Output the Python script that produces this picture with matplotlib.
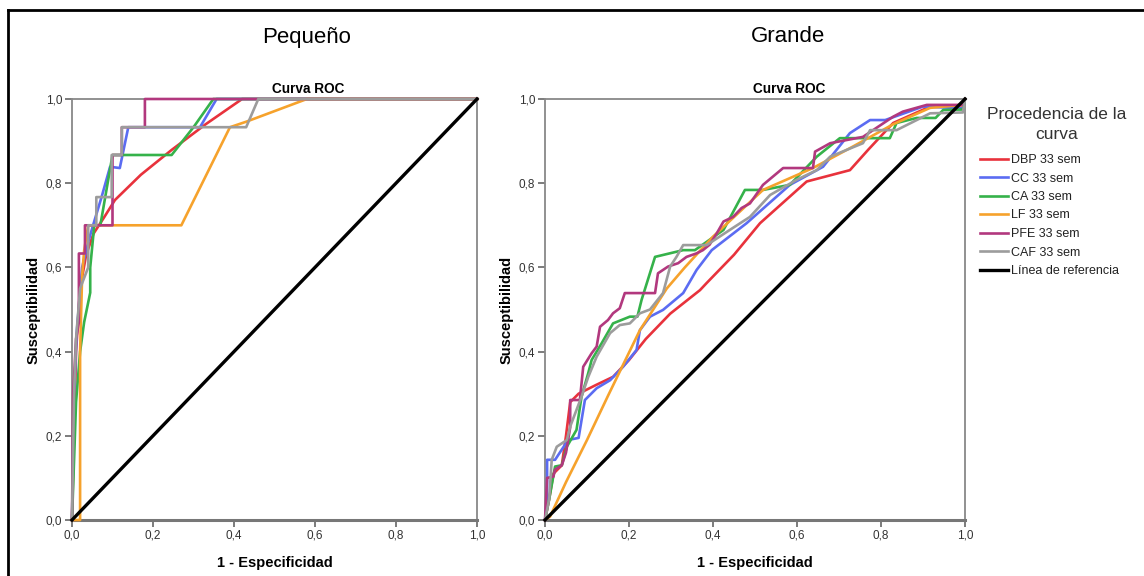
import matplotlib
matplotlib.use('Agg')
import matplotlib.pyplot as plt
from matplotlib.lines import Line2D

plt.rcParams['font.family'] = ['Liberation Sans', 'DejaVu Sans']

# curve names and colours (SPSS order)
names = ['DBP 33 sem', 'CC 33 sem', 'CA 33 sem', 'LF 33 sem', 'PFE 33 sem', 'CAF 33 sem']
colors = ['#e8323c', '#5b6cf2', '#35b24a', '#f6a22c', '#b2387e', '#9c9c9c']

# Pequeño: (1 - especificidad, susceptibilidad) points
peq_dbp = [(0, 0), (0.005, 0.2), (0.01, 0.4), (0.02, 0.55), (0.035, 0.63), (0.053, 0.68),
           (0.08, 0.72), (0.106, 0.76), (0.17, 0.82), (0.246, 0.879), (0.33, 0.94), (0.42, 1.0), (1, 1)]
peq_cc = [(0, 0), (0.005, 0.3), (0.012, 0.45), (0.025, 0.6), (0.04, 0.66), (0.052, 0.70),
          (0.073, 0.767), (0.094, 0.839), (0.118, 0.836), (0.139, 0.933), (0.316, 0.933), (0.357, 1), (1, 1)]
peq_ca = [(0, 0), (0.01, 0.28), (0.02, 0.4), (0.03, 0.47), (0.045, 0.54), (0.045, 0.6), (0.055, 0.7),
          (0.07, 0.7), (0.1, 0.867), (0.246, 0.867), (0.30, 0.933), (0.349, 1), (1, 1)]
peq_lf = [(0, 0), (0.02, 0), (0.02, 0.4), (0.025, 0.58), (0.03, 0.64), (0.04, 0.70), (0.27, 0.70),
          (0.39, 0.933), (0.43, 0.946), (0.58, 1), (1, 1)]
peq_pfe = [(0, 0), (0.003, 0.3), (0.01, 0.43), (0.017, 0.47), (0.017, 0.633), (0.032, 0.633),
           (0.032, 0.7), (0.1, 0.7), (0.1, 0.867), (0.123, 0.867), (0.123, 0.933), (0.18, 0.933),
           (0.18, 1), (1, 1)]
peq_caf = [(0, 0), (0.005, 0.3), (0.01, 0.43), (0.02, 0.55), (0.04, 0.6), (0.04, 0.7), (0.06, 0.7),
           (0.06, 0.767), (0.098, 0.767), (0.098, 0.867), (0.123, 0.867), (0.123, 0.933),
           (0.43, 0.933), (0.46, 1), (1, 1)]

# Grande
gra_dbp = [(0, 0), (0.01, 0.05), (0.02, 0.11), (0.04, 0.13), (0.05, 0.2), (0.06, 0.28), (0.08, 0.30),
           (0.12, 0.32), (0.162, 0.34), (0.2, 0.38), (0.24, 0.43), (0.298, 0.49), (0.369, 0.546),
           (0.385, 0.563), (0.45, 0.63), (0.512, 0.705), (0.623, 0.804), (0.726, 0.831), (0.77, 0.88),
           (0.829, 0.943), (0.917, 0.982), (0.995, 0.985), (1, 1)]
gra_cc = [(0, 0), (0.005, 0.05), (0.005, 0.143), (0.024, 0.143), (0.055, 0.19), (0.08, 0.195),
          (0.095, 0.285), (0.123, 0.313), (0.155, 0.332), (0.186, 0.364), (0.218, 0.404), (0.226, 0.451),
          (0.25, 0.483), (0.281, 0.499), (0.329, 0.539), (0.361, 0.594), (0.397, 0.641), (0.48, 0.705),
          (0.583, 0.796), (0.662, 0.839), (0.726, 0.919), (0.774, 0.95), (0.81, 0.95), (0.9, 0.982),
          (0.995, 0.978), (1, 1)]
gra_ca = [(0, 0), (0.01, 0.05), (0.024, 0.127), (0.04, 0.13), (0.052, 0.174), (0.075, 0.214),
          (0.087, 0.293), (0.103, 0.349), (0.111, 0.38), (0.135, 0.42), (0.162, 0.467), (0.202, 0.483),
          (0.22, 0.483), (0.23, 0.523), (0.262, 0.625), (0.329, 0.641), (0.357, 0.641), (0.425, 0.689),
          (0.476, 0.784), (0.519, 0.784), (0.583, 0.796), (0.647, 0.863), (0.702, 0.907), (0.821, 0.907),
          (0.837, 0.943), (0.885, 0.955), (0.93, 0.955), (0.948, 0.974), (0.995, 0.975), (1, 1)]
gra_lf = [(0, 0), (0.012, 0.008), (0.05, 0.09), (0.1, 0.19), (0.15, 0.295), (0.226, 0.451),
          (0.29, 0.55), (0.333, 0.60), (0.4, 0.673), (0.519, 0.784), (0.638, 0.836), (0.733, 0.887),
          (0.829, 0.94), (0.917, 0.979), (0.995, 0.986), (1, 1)]
gra_pfe = [(0, 0), (0.005, 0.1), (0.02, 0.103), (0.024, 0.12), (0.04, 0.13), (0.05, 0.16),
           (0.06, 0.22), (0.06, 0.285), (0.083, 0.285), (0.091, 0.364), (0.111, 0.396), (0.123, 0.412),
           (0.131, 0.459), (0.15, 0.475), (0.162, 0.491), (0.178, 0.503), (0.19, 0.539), (0.262, 0.539),
           (0.269, 0.586), (0.293, 0.602), (0.317, 0.61), (0.337, 0.625), (0.36, 0.633), (0.376, 0.641),
           (0.392, 0.654), (0.409, 0.681), (0.425, 0.709), (0.448, 0.72), (0.468, 0.741), (0.488, 0.752),
           (0.519, 0.796), (0.567, 0.836), (0.638, 0.836), (0.643, 0.875), (0.679, 0.895), (0.757, 0.91),
           (0.829, 0.958), (0.852, 0.97), (0.909, 0.986), (0.995, 0.986), (1, 1)]
gra_caf = [(0, 0), (0.01, 0.05), (0.016, 0.143), (0.028, 0.174), (0.052, 0.19), (0.06, 0.222),
           (0.087, 0.293), (0.103, 0.34), (0.123, 0.388), (0.155, 0.444), (0.178, 0.463), (0.202, 0.467),
           (0.226, 0.491), (0.25, 0.5), (0.281, 0.539), (0.298, 0.602), (0.313, 0.625), (0.329, 0.653),
           (0.385, 0.653), (0.44, 0.689), (0.488, 0.72), (0.536, 0.772), (0.599, 0.808), (0.647, 0.831),
           (0.679, 0.863), (0.757, 0.895), (0.774, 0.926), (0.837, 0.926), (0.917, 0.966),
           (0.995, 0.968), (1, 1)]

ticks = [0.0, 0.2, 0.4, 0.6, 0.8, 1.0]
tick_labels = ['0,0', '0,2', '0,4', '0,6', '0,8', '1,0']

W, H = 1144, 576
fig = plt.figure(figsize=(11.44, 5.76), dpi=100)
ax1 = fig.add_axes([72 / W, 1 - 520 / H, 405 / W, 421 / H])
ax2 = fig.add_axes([545 / W, 1 - 520 / H, 420 / W, 421 / H])

# (axes, curves, panel title, x centre of titles in pixels)
panels = [(ax1, [peq_dbp, peq_cc, peq_ca, peq_lf, peq_pfe, peq_caf], 'Pequeño', 307),
          (ax2, [gra_dbp, gra_cc, gra_ca, gra_lf, gra_pfe, gra_caf], 'Grande', 788)]

for ax, curves, panel_title, tx in panels:
    for pts, c, n in zip(curves, colors, names):
        xs = [p[0] for p in pts]
        ys = [p[1] for p in pts]
        ax.plot(xs, ys, color=c, lw=1.9, label=n, clip_on=False, zorder=3)
    ax.plot([0, 1], [0, 1], color='black', lw=2.4, label='Línea de referencia',
            clip_on=False, zorder=4)
    ax.set_xlim(0, 1)
    ax.set_ylim(0, 1)
    ax.set_xticks(ticks)
    ax.set_xticklabels(tick_labels)
    ax.set_yticks(ticks)
    ax.set_yticklabels(tick_labels)
    ax.tick_params(direction='out', length=5, width=1.2, color='#666666',
                   labelsize=8.5, labelcolor='#333333', pad=2)
    for side in ['top', 'right', 'left']:
        ax.spines[side].set_color('#888888')
        ax.spines[side].set_linewidth(1.3)
    ax.spines['bottom'].set_color('#777777')
    ax.spines['bottom'].set_linewidth(2.2)
    bb = ax.get_position()
    ax_w_px = (bb.x1 - bb.x0) * W
    ax_x0_px = bb.x0 * W
    # SPSS centres the titles over the whole chart area, not the plot box
    title_x = (tx + 1 - ax_x0_px) / ax_w_px
    ax.set_title('Curva ROC', fontsize=9.8, fontweight='bold', pad=4, x=title_x)
    ax.set_xlabel('1 - Especificidad', fontsize=10.5, fontweight='bold', labelpad=10)
    ax.set_ylabel('Susceptibilidad', fontsize=10.5, fontweight='bold', labelpad=4)
    fig.text(tx / W, 1 - 37 / H, panel_title, fontsize=16, ha='center', va='center')

handles, labels = ax2.get_legend_handles_labels()
leg = fig.legend(handles, labels, loc='upper left', bbox_to_anchor=(975 / W, 1 - 149 / H),
                 frameon=False, fontsize=9, handlelength=2.2, handletextpad=0.3,
                 labelspacing=0.52, borderaxespad=0)
for t in leg.get_texts():
    t.set_color('#222222')
fig.text(1057 / W, 1 - 107 / H, 'Procedencia de la\ncurva', fontsize=12.5, ha='center',
         va='top', multialignment='center', linespacing=1.45, color='#333333')

# outer frame (top and left edges)
fig.add_artist(Line2D([8 / W, 1], [1 - 10 / H, 1 - 10 / H], color='black', lw=2,
                      transform=fig.transFigure))
fig.add_artist(Line2D([8 / W, 8 / W], [0, 1 - 10 / H], color='black', lw=2,
                      transform=fig.transFigure))

fig.savefig('out.png', dpi=100)
